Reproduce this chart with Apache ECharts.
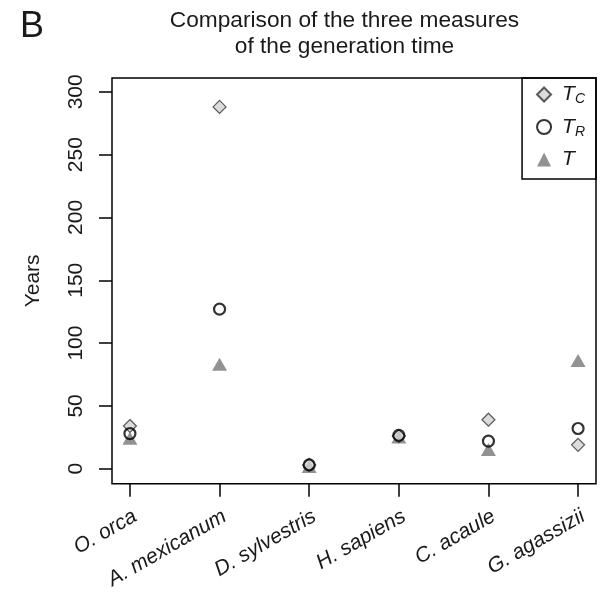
<!DOCTYPE html>
<html>
<head>
    <meta charset="utf-8">
    <title>Generation time</title>
    <script src="https://cdn.jsdelivr.net/npm/echarts@6/dist/echarts.min.js"></script>
    <style>
        html, body { margin: 0; padding: 0; background: #fff; }
        #chart { width: 603px; height: 592px; }
    </style>
</head>
<body>
<div id="chart"></div>
<script>
    // species on the x axis
    var species = ['O. orca', 'A. mexicanum', 'D. sylvestris', 'H. sapiens', 'C. acaule', 'G. agassizii'];
    // three measures of generation time (years)
    var tC = [34, 288, 3, 26, 39, 19];
    var tR = [28, 127, 3, 26.5, 22, 32];
    var tT = [25, 84, 2.5, 26, 16, 87];
    var yTicks = [0, 50, 100, 150, 200, 250, 300];
    var xTicks = [1, 2, 3, 4, 5, 6];

    var toPoints = function (arr) {
        return arr.map(function (v, i) { return [i + 1, v]; });
    };

    var font = '"Liberation Sans", Arial, Helvetica, sans-serif';
    var ink = '#1a1a1a';

    var myChart = echarts.init(document.getElementById('chart'));
    var option = {
        animation: false,
        textStyle: { fontFamily: font },
        title: [{
            text: 'B',
            left: 15,
            top: 4,
            textStyle: { fontSize: 36, fontWeight: 'normal', color: ink, fontFamily: font }
        }, {
            text: 'Comparison of the three measures\nof the generation time',
            left: 339.5,
            top: 3,
            textAlign: 'center',
            textStyle: { fontSize: 22.7, lineHeight: 26, fontWeight: 'normal', color: ink, fontFamily: font }
        }],
        legend: {
            orient: 'vertical',
            right: 7,
            top: 78,
            data: ['T_C', 'T_R', 'T'],
            itemWidth: 14,
            itemHeight: 14,
            itemGap: 10,
            padding: [6, 11, 9, 14],
            borderColor: '#000',
            borderWidth: 1.5,
            formatter: function (name) {
                if (name === 'T') return '{t|T}';
                return '{t|T}{s|' + name.slice(2) + '}';
            },
            textStyle: {
                rich: {
                    t: { fontSize: 21, fontStyle: 'italic', color: ink, fontFamily: font, padding: [0, 0, 0, 6] },
                    s: { fontSize: 14, fontStyle: 'italic', color: ink, fontFamily: font, padding: [10, 0, 0, 0] }
                }
            }
        },
        grid: {
            left: 112,
            right: 7,
            top: 78,
            bottom: 107,
            show: true,
            borderColor: '#000',
            borderWidth: 1.5,
            containLabel: false
        },
        xAxis: {
            type: 'value',
            min: 0.8,
            max: 6.2,
            splitLine: { show: false },
            axisLine: { show: false, onZero: false },
            axisTick: {
                show: true,
                length: 13,
                customValues: xTicks,
                lineStyle: { color: '#000', width: 1.5 }
            },
            axisLabel: {
                customValues: xTicks,
                formatter: function (v) { return species[Math.round(v) - 1]; },
                rotate: 30,
                margin: 22,
                verticalAlign: 'top',
                fontSize: 21,
                fontStyle: 'italic',
                color: ink,
                fontFamily: font
            }
        },
        yAxis: {
            type: 'value',
            min: -12,
            max: 311,
            name: 'Years',
            nameLocation: 'middle',
            nameGap: 68,
            nameTextStyle: { fontSize: 21, color: ink, fontFamily: font },
            splitLine: { show: false },
            axisLine: { show: false, onZero: false },
            axisTick: {
                show: true,
                length: 13,
                customValues: yTicks,
                lineStyle: { color: '#000', width: 1.5 }
            },
            axisLabel: {
                customValues: yTicks,
                rotate: 90,
                margin: 25,
                fontSize: 21,
                color: ink,
                fontFamily: font
            }
        },
        series: [{
            name: 'T',
            type: 'scatter',
            symbol: 'triangle',
            symbolSize: [15, 13],
            symbolOffset: [0, 1],
            itemStyle: { color: '#777777' },
            data: toPoints(tT)
        }, {
            name: 'T_C',
            type: 'scatter',
            symbol: 'diamond',
            symbolSize: [13, 13],
            itemStyle: { color: '#d3d3d3', borderColor: '#333', borderWidth: 1.2 },
            data: toPoints(tC)
        }, {
            name: 'T_R',
            type: 'scatter',
            symbol: 'circle',
            symbolSize: 11,
            itemStyle: { color: 'rgba(0,0,0,0)', borderColor: '#000', borderWidth: 2.2 },
            data: toPoints(tR)
        }]
    };
    myChart.setOption(option);
</script>
</body>
</html>
